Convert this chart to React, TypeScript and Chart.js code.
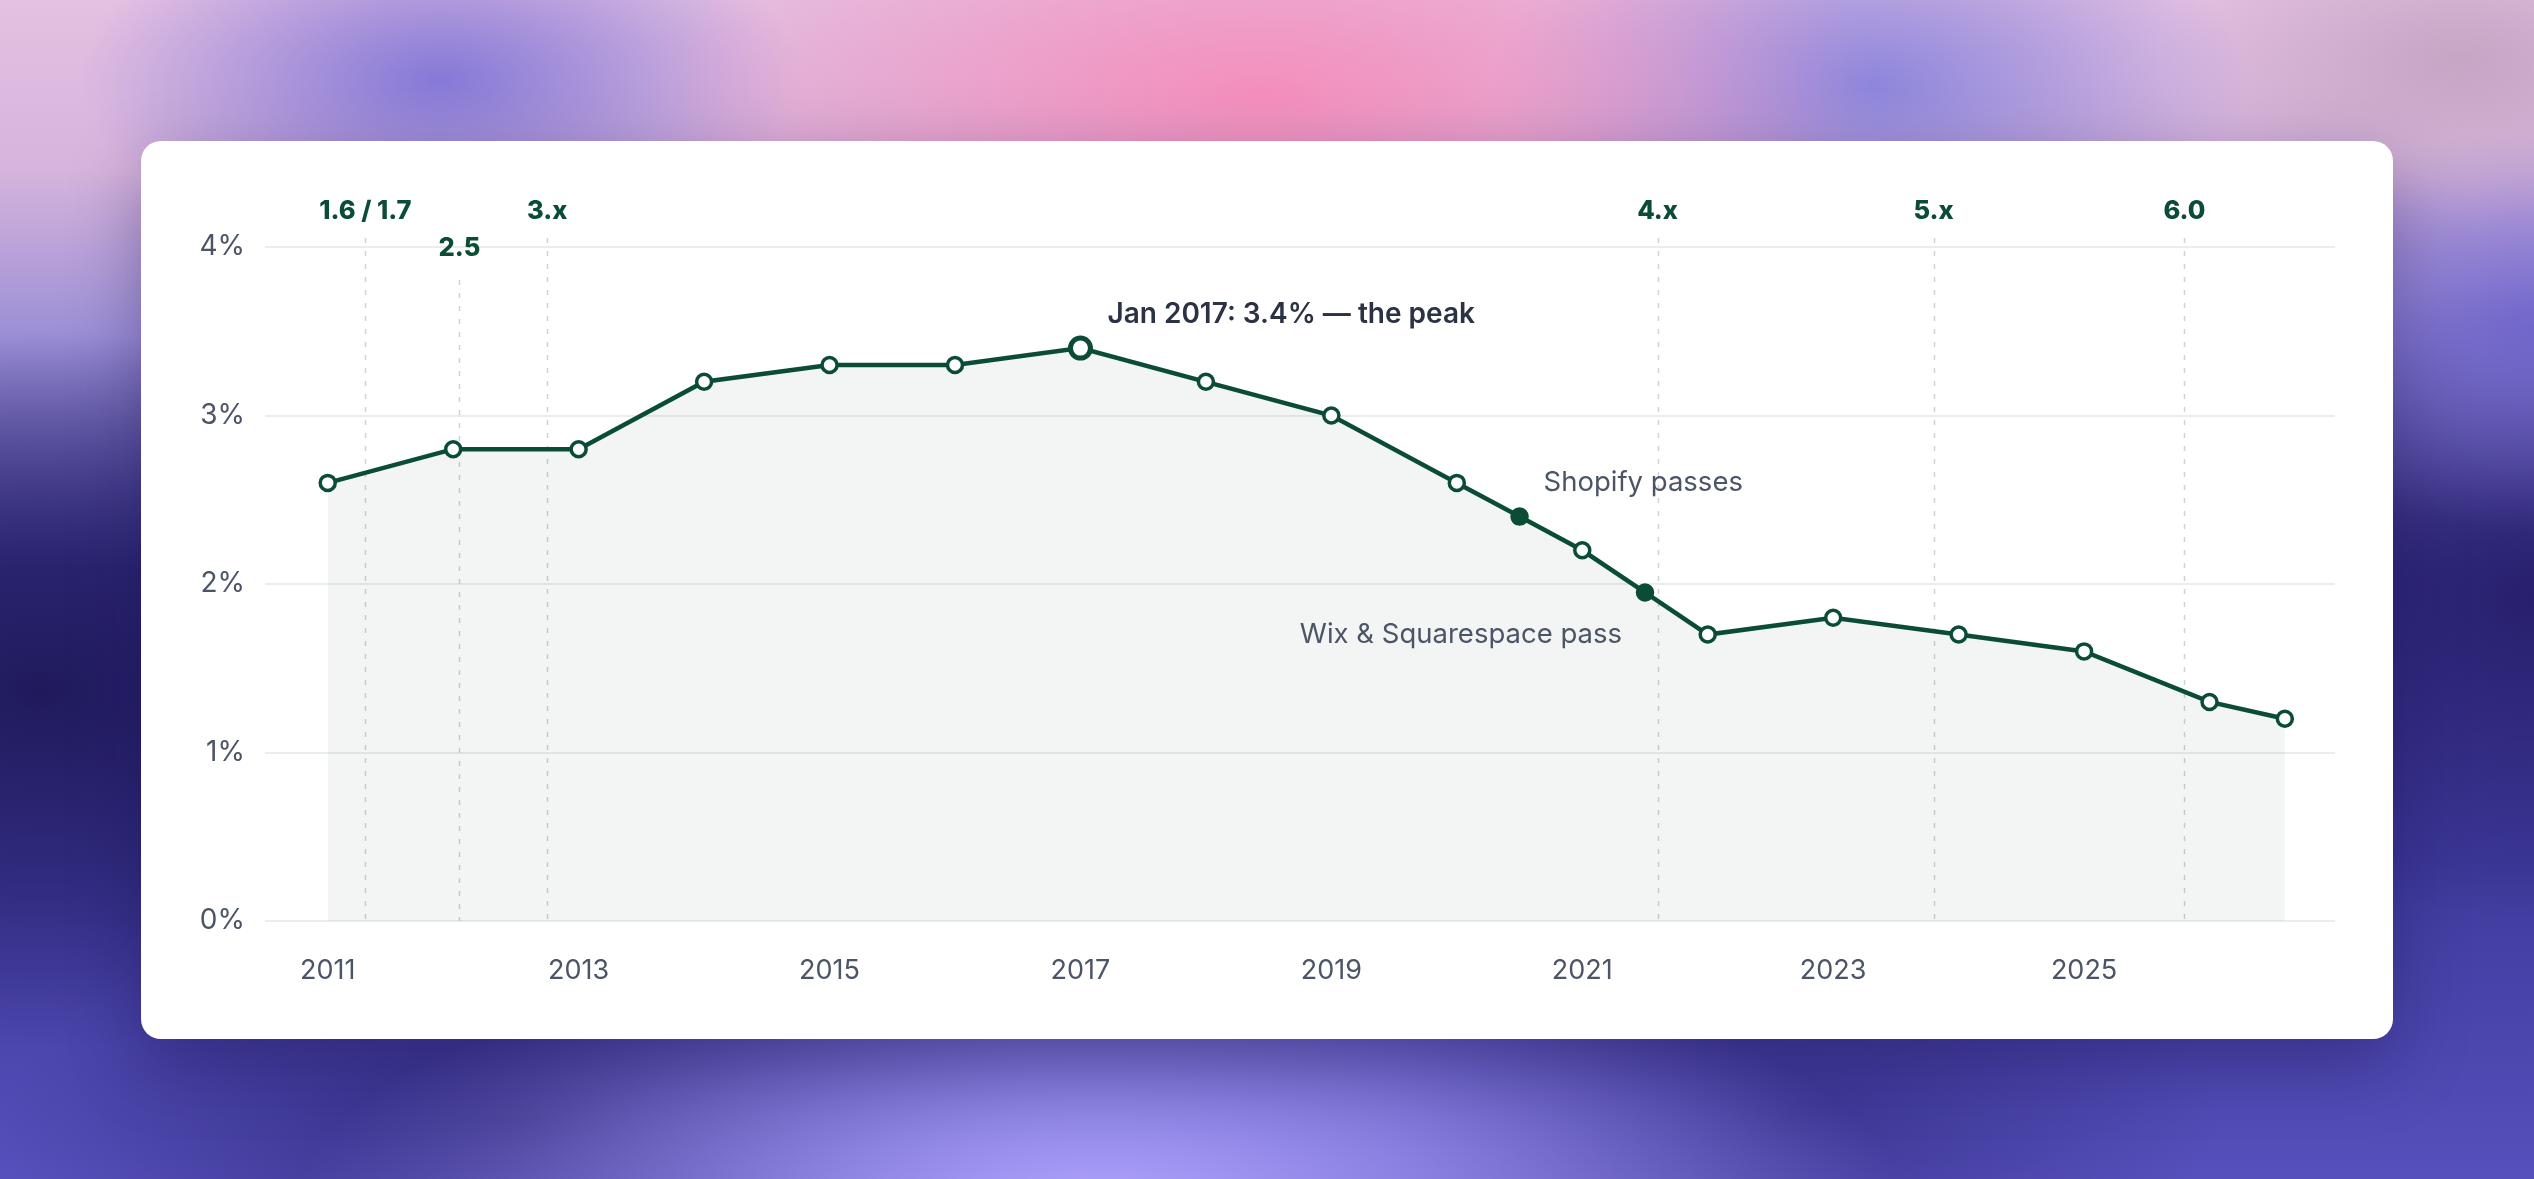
import { useEffect, useRef } from 'react';
import { Chart, registerables } from 'chart.js';

Chart.register(...registerables);

// share of sites, %, by year (fractional years for mid-year points)
const YEARS = [2011, 2012, 2013, 2014, 2015, 2016, 2017, 2018, 2019, 2020, 2020.5, 2021, 2021.5, 2022, 2023, 2024, 2025, 2026, 2026.6];
const SHARE = [2.6, 2.8, 2.8, 3.2, 3.3, 3.3, 3.4, 3.2, 3.0, 2.6, 2.4, 2.2, 1.95, 1.7, 1.8, 1.7, 1.6, 1.3, 1.2];

const X_TICKS = [2011, 2013, 2015, 2017, 2019, 2021, 2023, 2025];
const Y_TICKS = [0, 1, 2, 3, 4];

const VERSION_NAMES = ['1.6 / 1.7', '2.5', '3.x', '4.x', '5.x', '6.0'];
const VERSION_AT = [2011.3, 2012.05, 2012.75, 2021.6, 2023.8, 2025.8];
const VERSION_ROW = [0, 1, 0, 0, 0, 0];

const PEAK_INDEX = 6;
const PEAK_NOTE = 'Jan 2017: 3.4% — the peak';
const PASS_INDEX = [10, 12];
const PASS_NOTES = ['Shopify passes', 'Wix & Squarespace pass'];

const GREEN = '#0b4d34';
const SLATE = '#4b5566';
const FONT = "Inter, 'Noto Sans', sans-serif";

const BACKDROP = [
  'radial-gradient(ellipse 620px 240px at 1260px 95px, rgba(246,140,186,0.95), rgba(246,140,186,0))',
  'radial-gradient(ellipse 360px 180px at 440px 80px, rgba(124,114,214,0.9), rgba(124,114,214,0))',
  'radial-gradient(ellipse 380px 200px at 1870px 85px, rgba(132,128,220,0.9), rgba(132,128,220,0))',
  'radial-gradient(ellipse 300px 160px at 2460px 60px, rgba(190,160,190,0.8), rgba(190,160,190,0))',
  'radial-gradient(ellipse 800px 260px at 1100px 1200px, rgba(174,162,252,1), rgba(174,162,252,0))',
  'radial-gradient(ellipse 520px 200px at 520px 1120px, rgba(50,44,128,0.9), rgba(50,44,128,0))',
  'radial-gradient(ellipse 420px 180px at 1800px 1110px, rgba(56,50,140,0.8), rgba(56,50,140,0))',
  'radial-gradient(ellipse 520px 360px at 40px 690px, rgba(32,26,92,1), rgba(32,26,92,0))',
  'radial-gradient(ellipse 300px 200px at 2534px 330px, rgba(110,100,204,0.9), rgba(110,100,204,0))',
  'radial-gradient(ellipse 420px 320px at 2534px 600px, rgba(40,32,110,1), rgba(40,32,110,0))',
  'linear-gradient(180deg, #e4c0e2 0px, #d6b4dc 170px, #9a8ed6 340px, #3b3592 570px, #3e3a9c 860px, #5650bc 1179px)',
].join(',');

const notes = {
  id: 'notes',
  beforeDatasetsDraw(chart: any) {
    const { ctx, chartArea, scales } = chart;
    ctx.save();
    ctx.strokeStyle = '#cdd2d6';
    ctx.lineWidth = 1.5;
    ctx.setLineDash([5, 8]);
    VERSION_AT.forEach((v, i) => {
      const px = Math.round(scales.x.getPixelForValue(v)) + 0.5;
      const top = VERSION_ROW[i] ? chartArea.top + 33 : chartArea.top - 9;
      ctx.beginPath();
      ctx.moveTo(px, top);
      ctx.lineTo(px, chartArea.bottom);
      ctx.stroke();
    });
    ctx.restore();
  },
  afterDatasetsDraw(chart: any) {
    const { ctx, chartArea, scales } = chart;
    const { x, y } = scales;
    ctx.save();
    ctx.textBaseline = 'middle';

    ctx.fillStyle = GREEN;
    ctx.textAlign = 'center';
    ctx.font = `800 25.5px ${FONT}`;
    VERSION_NAMES.forEach((name, i) => {
      const ty = VERSION_ROW[i] ? chartArea.top + 1 : chartArea.top - 36;
      ctx.fillText(name, x.getPixelForValue(VERSION_AT[i]), ty);
    });

    ctx.fillStyle = '#2b3244';
    ctx.textAlign = 'left';
    ctx.font = `600 28px ${FONT}`;
    ctx.fillText(PEAK_NOTE, x.getPixelForValue(YEARS[PEAK_INDEX]) + 27, y.getPixelForValue(SHARE[PEAK_INDEX]) - 34);

    ctx.fillStyle = SLATE;
    ctx.font = `400 27.5px ${FONT}`;
    const a = PASS_INDEX[0];
    ctx.fillText(PASS_NOTES[0], x.getPixelForValue(YEARS[a]) + 24, y.getPixelForValue(SHARE[a]) - 34);
    const b = PASS_INDEX[1];
    ctx.textAlign = 'right';
    ctx.fillText(PASS_NOTES[1], x.getPixelForValue(YEARS[b]) - 23, y.getPixelForValue(SHARE[b]) + 42);
    ctx.restore();
  },
};

export default function App() {
  const ref = useRef<HTMLCanvasElement>(null);

  useEffect(() => {
    document.body.style.margin = '0';
    if (!ref.current) return;
    const filled = (i: number) => PASS_INDEX.includes(i);
    const c = new Chart(ref.current, {
      type: 'line',
      data: {
        datasets: [{
          data: YEARS.map((yr, i) => ({ x: yr, y: SHARE[i] })),
          borderColor: GREEN,
          borderWidth: 4.5,
          backgroundColor: 'rgba(11,77,52,0.055)',
          fill: 'origin',
          tension: 0,
          pointRadius: YEARS.map((_, i) => (i === PEAK_INDEX ? 10 : 7.5)),
          pointBorderWidth: YEARS.map((_, i) => (i === PEAK_INDEX ? 5 : 3.5)),
          pointBackgroundColor: YEARS.map((_, i) => (filled(i) ? GREEN : '#ffffff')),
          pointBorderColor: GREEN,
        }],
      },
      options: {
        animation: false,
        responsive: true,
        maintainAspectRatio: false,
        events: [],
        layout: { padding: { top: 106, right: 58, left: 0, bottom: 0 } },
        scales: {
          x: {
            type: 'linear',
            min: 2010.5,
            max: 2027,
            afterBuildTicks: (s: any) => { s.ticks = X_TICKS.map((v) => ({ value: v })); },
            afterFit: (s: any) => { s.height = 118; },
            grid: { display: false },
            border: { display: false },
            ticks: { color: SLATE, padding: 26, font: { family: FONT, size: 27 }, callback: (v: any) => String(v) },
          },
          y: {
            min: 0,
            max: 4,
            afterBuildTicks: (s: any) => { s.ticks = Y_TICKS.map((v) => ({ value: v })); },
            afterFit: (s: any) => { s.width = 124; },
            grid: { color: '#ebecec', lineWidth: 2, drawTicks: false },
            border: { display: false },
            ticks: { color: SLATE, padding: 20, font: { family: FONT, size: 28 }, callback: (v: any) => v + '%' },
          },
        },
        plugins: { legend: { display: false }, tooltip: { enabled: false } },
      },
      plugins: [notes],
    });
    return () => c.destroy();
  }, []);

  return (
    <div style={{ position: 'fixed', inset: 0, background: BACKDROP, overflow: 'hidden' }}>
      <div
        style={{
          position: 'absolute', left: 141, top: 141, width: 2252, height: 898,
          background: '#ffffff', borderRadius: 20, boxShadow: '0 24px 70px rgba(20,12,70,0.35)',
        }}
      >
        <canvas ref={ref} />
      </div>
    </div>
  );
}
